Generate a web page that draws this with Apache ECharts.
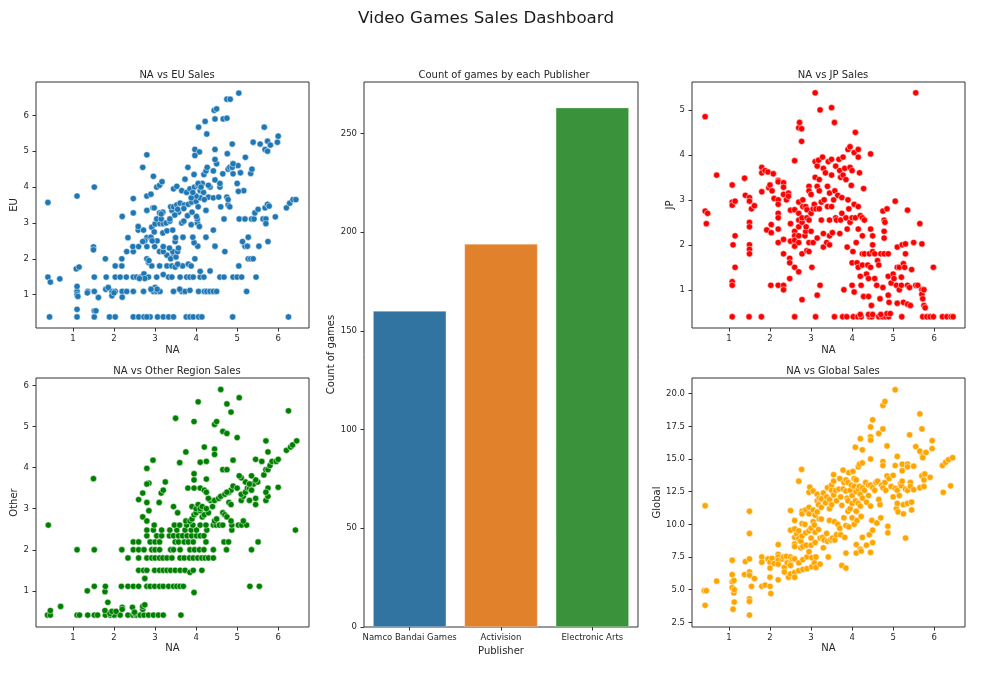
<!DOCTYPE html>
<html>
<head>
<meta charset="utf-8">
<script src="https://cdn.jsdelivr.net/npm/echarts@6/dist/echarts.min.js"></script>
<style>
html,body{margin:0;padding:0;background:#fff;}
#chart{width:993px;height:673px;}
</style>
</head>
<body>
<div id="chart"></div>
<script>
// ---------- DATA ----------
const publishers = ['Namco Bandai Games', 'Activision', 'Electronic Arts'];
const publisherCounts = [160, 194, 263];

const naTicks = [1, 2, 3, 4, 5, 6];
const euTicks = [1, 2, 3, 4, 5, 6];
const otherTicks = [1, 2, 3, 4, 5, 6];
const jpTicks = [1, 2, 3, 4, 5];
const globalTicks = [2.5, 5, 7.5, 10, 12.5, 15, 17.5, 20];
const countTicks = [0, 50, 100, 150, 200, 250];

const naEuPoints = [
[0.43,0.38],[1.10,0.38],[1.52,0.38],[1.89,0.38],[2.03,0.38],[2.47,0.38],[2.6,0.38],[2.73,0.38],[2.88,0.38],[3.06,0.38],[3.2,0.38],[3.33,0.38],[3.45,0.38],[3.76,0.38],[3.85,0.38],[3.93,0.38],[4.06,0.38],[4.14,0.38],[4.89,0.38],[6.25,0.38],[2.8,0.38],
[1.1,1.09],[1.36,1.09],[1.52,1.09],[1.95,1.09],[2.03,1.09],[2.2,1.09],[2.31,1.09],[2.47,1.09],[2.72,1.09],[2.96,1.09],[3.04,1.09],[3.12,1.09],[3.45,1.09],[3.65,1.09],[3.73,1.09],[4.06,1.09],[4.2,1.09],[4.26,1.09],[4.34,1.09],[4.42,1.09],[4.5,1.09],[5.23,1.09],
[0.39,1.49],[0.45,1.35],[0.68,1.44],[1.1,1.23],[1.52,1.49],[1.81,1.49],[2.03,1.49],[2.15,1.49],[2.3,1.49],[2.47,1.49],[2.55,1.49],[2.64,1.49],[2.73,1.58],[2.84,1.49],[3.04,1.49],[3.2,1.56],[3.33,1.49],[3.41,1.49],[3.61,1.49],[3.77,1.49],[3.85,1.49],[3.93,1.49],[4.1,1.49],[4.19,1.49],[4.34,1.66],[4.58,1.49],[4.68,1.49],[4.9,1.49],[5.0,1.49],[5.11,1.49],[5.46,1.49],
[1.1,0.59],[1.1,1.0],[1.12,0.95],[1.52,0.55],[1.56,0.55],[1.62,0.92],[1.35,1.05],[1.8,1.15],[1.86,1.2],[1.95,0.97],[2.0,1.05],[2.2,0.93],[3.0,1.2],[3.05,1.15],[3.6,1.15],[3.85,1.12],[4.1,1.65],[1.08,1.72],[1.15,1.77],[2.75,1.45],[2.9,1.15],[2.62,1.45],
[1.79,2.0],[2.03,1.8],[2.19,1.8],[2.84,1.9],[2.92,1.8],[3.11,1.8],[3.29,1.8],[3.41,1.8],[3.49,1.77],[3.67,1.8],[3.81,1.85],[3.88,1.8],[3.97,2.0],[5.04,1.8],[3.55,1.85],
[2.19,2.0],[2.8,2.0],[3.29,2.1],[3.45,2.1],[5.27,2.0],[5.33,2.0],[5.39,2.0],[3.38,2.0],[2.85,1.95],
[2.31,2.2],[2.47,2.2],[3.11,2.2],[3.2,2.2],[3.43,2.2],[3.35,2.3],[3.51,2.05],[4.7,2.2],[3.55,2.2],
[1.5,2.33],[1.5,2.25],[2.46,2.34],[2.6,2.34],[2.8,2.34],[2.99,2.34],[3.2,2.34],[3.49,2.48],[3.57,2.3],[4.04,2.35],[4.46,2.35],[5.19,2.35],[5.25,2.35],[5.53,2.35],[5.13,2.48],[3.95,2.45],[5.75,2.48],
[2.34,2.59],[2.8,2.59],[2.9,2.6],[3.5,2.59],[3.92,2.6],[4.24,2.6],[5.27,2.6],[3.05,2.5],[2.75,2.5],[2.93,2.5],
[2.59,2.8],[2.72,2.8],[2.92,2.88],[2.98,2.75],[3.19,2.72],[3.29,2.78],[3.43,2.8],[4.42,2.8],[2.7,2.48],[3.68,2.6],
[2.59,2.9],[3.0,2.97],[3.12,2.98],[3.2,2.98],[3.27,3.0],[3.36,3.05],[3.65,3.0],[4.03,3.0],[4.08,2.9],[3.7,3.05],[3.88,2.95],
[3.04,3.11],[3.15,3.11],[3.36,3.11],[4.03,3.11],[4.68,3.11],[5.05,3.11],[5.19,3.11],[5.35,3.11],[5.41,3.11],[5.63,3.11],[5.7,3.11],[5.93,3.17],[5.7,2.98],
[2.2,3.18],[2.47,3.28],[2.8,3.35],[3.11,3.28],[3.19,3.3],[3.41,3.35],[3.57,3.3],[3.79,3.2],[4.01,3.18],[4.24,3.35],[5.43,3.28],[5.51,3.38],[3.9,3.3],[3.48,3.22],[2.95,3.42],[3.15,3.25],
[0.39,3.57],[2.98,3.42],[3.38,3.45],[3.45,3.45],[3.53,3.5],[3.61,3.55],[3.71,3.5],[3.81,3.52],[3.89,3.58],[4.0,3.6],[4.6,3.45],[4.78,3.5],[4.82,3.45],[5.68,3.42],[5.74,3.52],[5.78,3.47],[6.2,3.42],[6.28,3.55],[6.36,3.65],[6.43,3.65],[3.7,3.4],[3.55,3.38],[4.05,3.45],
[1.1,3.75],[1.52,4.0],[2.47,3.68],[2.8,3.75],[2.9,3.8],[3.45,3.95],[3.53,4.02],[3.65,3.9],[3.77,3.85],[3.85,3.95],[3.96,4.0],[4.04,4.05],[4.1,3.9],[4.18,3.85],[4.3,3.72],[4.42,3.7],[4.55,3.72],[4.58,4.0],[4.75,3.72],[4.78,3.65],[5.16,3.9],[5.0,4.1],[5.03,3.88],[4.1,3.7],[4.0,3.75],[3.88,3.7],[4.2,3.65],[3.92,3.85],
[3.04,4.0],[3.11,4.05],[3.17,4.15],[2.96,4.3],[3.73,4.22],[3.95,4.35],[4.15,4.1],[4.19,4.35],[4.24,4.45],[4.27,4.55],[4.34,4.0],[4.42,4.45],[4.46,4.2],[4.5,4.65],[4.58,4.1],[4.65,4.37],[4.78,4.5],[4.82,4.55],[4.9,4.37],[5.02,4.6],[5.08,4.4],[5.33,4.38],[5.36,4.5],[3.8,4.55],[2.7,4.55],[4.05,4.1],[4.3,4.05],[4.12,4.0],
[2.8,4.9],[3.97,5.05],[4.08,4.98],[3.97,4.88],[4.46,4.77],[4.46,5.05],[4.76,4.93],[4.88,4.55],[4.9,4.65],[5.2,4.83],[5.68,5.05],[5.74,5.0],[5.74,5.28],[5.81,5.17],[5.56,5.2],[5.39,5.25],[5.98,5.25],[6.0,5.42],[5.66,5.67],[4.88,5.2],
[4.06,5.67],[4.26,5.48],[4.22,5.83],[4.44,6.14],[4.5,6.18],[4.46,5.9],[4.66,5.9],[4.75,5.92],[4.75,6.45],[4.83,6.45],[5.04,6.62]
];

const naOtherPoints = [
[0.38,0.41],[0.45,0.41],[1.1,0.41],[1.16,0.41],[1.36,0.41],[1.52,0.41],[1.6,0.41],[1.79,0.41],[1.91,0.41],[2.03,0.41],[2.15,0.41],[2.34,0.41],[2.46,0.41],[2.54,0.41],[2.64,0.41],[2.73,0.41],[2.84,0.41],[2.96,0.41],[3.08,0.41],[3.2,0.41],[3.63,0.41],[2.0,0.41],[2.5,0.45],
[0.45,0.52],[0.7,0.62],[1.78,0.52],[1.85,0.72],[1.9,0.45],[1.95,0.5],[2.05,0.5],[2.2,0.6],[2.2,0.55],[2.45,0.6],[2.5,0.48],[2.7,0.55],[2.7,0.62],[2.75,0.66],[1.35,1.0],[1.78,0.98],[3.95,0.96],[2.75,1.3],[0.4,2.6],[1.5,3.73],
[1.52,1.11],[1.79,1.11],[2.18,1.11],[2.34,1.11],[2.47,1.11],[2.6,1.11],[2.8,1.11],[2.88,1.11],[2.99,1.11],[3.11,1.11],[3.2,1.11],[3.33,1.11],[3.45,1.11],[3.53,1.11],[3.61,1.11],[3.69,1.11],[5.31,1.11],[5.54,1.11],
[2.6,1.5],[2.72,1.5],[2.8,1.5],[2.99,1.5],[3.11,1.5],[3.2,1.5],[3.29,1.5],[3.38,1.5],[3.49,1.5],[3.61,1.5],[3.73,1.5],[3.85,1.45],[3.93,1.5],[4.14,1.5],
[2.34,1.8],[2.6,1.8],[2.8,1.8],[2.92,1.8],[3.0,1.8],[3.11,1.8],[3.19,1.8],[3.29,1.8],[3.41,1.8],[3.61,1.8],[3.71,1.8],[3.84,1.8],[3.93,1.8],[4.04,1.8],[4.14,1.8],[4.22,1.8],[4.3,1.8],[4.42,1.8],
[1.1,2.0],[1.52,2.0],[2.19,2.0],[2.47,2.0],[2.6,2.0],[2.73,2.0],[2.92,2.0],[3.0,2.0],[3.11,2.0],[3.38,2.0],[3.45,2.0],[3.61,2.0],[3.85,2.0],[3.96,2.0],[4.08,2.0],[4.19,2.0],[4.42,2.0],[4.74,2.0],[5.35,2.0],
[2.47,2.19],[2.6,2.19],[2.88,2.19],[3.0,2.19],[3.11,2.19],[3.49,2.19],[3.57,2.19],[3.71,2.19],[3.81,2.19],[3.93,2.19],[4.24,2.19],[4.68,2.19],[4.79,2.19],[5.51,2.19],
[2.8,2.34],[3.04,2.34],[3.16,2.34],[3.35,2.34],[3.45,2.34],[3.57,2.34],[3.67,2.34],[3.78,2.34],[3.89,2.34],[4.01,2.34],[4.1,2.34],[4.19,2.34],
[2.8,2.48],[2.96,2.48],[3.16,2.48],[3.36,2.48],[3.53,2.48],[3.73,2.48],[3.88,2.48],[4.01,2.48],[4.26,2.48],[4.87,2.48],[6.42,2.48],
[2.98,2.6],[3.47,2.6],[3.6,2.6],[3.77,2.6],[3.92,2.6],[4.1,2.6],[4.24,2.6],[4.42,2.6],[4.49,2.6],[4.57,2.6],[4.65,2.6],[4.87,2.6],[5.03,2.6],[5.11,2.6],[5.23,2.6],
[2.7,2.8],[2.8,2.7],[3.75,2.7],[3.85,2.7],[3.9,2.75],[3.95,2.85],[4.0,2.9],[4.1,2.95],[4.15,2.8],[4.2,2.85],[4.3,2.9],[4.45,2.7],[4.5,2.75],[4.65,2.9],[4.7,2.85],[4.75,2.8],[4.85,2.7],[5.15,2.7],
[2.6,3.22],[2.85,2.95],[2.8,3.15],[3.1,3.15],[3.45,3.05],[3.55,2.9],[3.9,3.05],[4.0,3.0],[4.05,3.1],[4.1,3.0],[4.15,3.05],[4.25,3.0],[4.35,3.2],[4.4,3.05],[4.45,3.2],[4.55,3.25],[4.6,3.3],[4.8,3.15],[4.85,3.1],[5.1,3.2],[5.3,3.2],[5.45,3.1],[5.45,3.25],[5.7,3.2],[5.15,3.3],[5.1,3.35],[5.75,3.3],
[2.7,3.38],[3.15,3.38],[3.2,3.45],[3.25,3.65],[2.85,3.62],[2.8,3.6],[3.8,3.5],[3.95,3.5],[4.1,3.5],[4.2,3.45],[4.25,3.4],[4.7,3.35],[4.8,3.4],[4.85,3.45],[4.9,3.55],[5.0,3.5],[5.2,3.4],[5.25,3.5],[5.3,3.5],[5.35,3.45],[5.4,3.6],[5.5,3.65],[5.45,3.7],[5.2,3.65],[5.1,3.75],[5.05,3.8],[5.75,3.5],[5.7,3.4],[6.0,3.52],[4.25,3.72],[4.3,3.25],[4.75,3.4],
[2.8,3.98],[2.95,4.18],[3.6,4.12],[3.75,4.38],[3.95,3.85],[3.95,3.7],[4.1,4.13],[4.25,4.15],[4.2,4.5],[4.45,4.45],[4.45,4.32],[4.65,3.95],[4.75,3.95],[4.9,4.18],[5.35,3.8],[5.45,4.2],[5.6,4.15],[5.65,3.82],[5.7,3.95],[5.75,3.95],[5.75,4.38],[5.8,4.05],[5.85,4.15],[5.95,4.15],[6.0,4.2],[5.7,4.65],[5.3,3.6],
[3.5,5.2],[3.95,5.12],[4.05,5.6],[4.45,5.05],[4.5,5.12],[4.6,5.9],[4.65,4.88],[4.75,4.83],[4.75,5.55],[4.85,5.35],[5.0,4.73],[5.05,5.7],[6.25,5.38],[6.2,4.42],[6.3,4.5],[6.35,4.55],[6.45,4.65]
];

const naJpPoints = [
[1.08,0.4],[1.49,0.4],[1.79,0.4],[2.6,0.4],[3.11,0.4],[3.57,0.4],[3.77,0.4],[3.87,0.4],[4.03,0.4],[4.14,0.4],[4.22,0.4],[4.42,0.4],[4.48,0.4],[4.65,0.4],[4.74,0.4],[4.82,0.4],[4.89,0.4],[5.21,0.4],[5.72,0.4],[5.82,0.4],[5.9,0.4],[5.98,0.4],[6.2,0.4],[6.31,0.4],[6.41,0.4],[6.46,0.4],
[4.2,0.45],[4.4,0.45],[4.5,0.45],[4.7,0.45],[4.85,0.47],[4.93,0.47],
[0.42,4.85],[0.42,2.75],[0.45,2.47],[0.48,2.7],[0.7,3.55],[1.08,3.33],[1.08,2.95],[1.08,2.88],[1.1,2.0],[1.08,1.18],[1.08,1.1],[1.15,2.2],[1.15,1.5],[1.15,2.97],[1.38,3.48],[1.4,3.1],[1.5,3.05],[1.5,2.97],[1.5,2.5],[1.5,2.4],[1.5,2.0],[1.5,1.9],[1.5,1.8],[1.55,2.8],[1.62,2.87],
[1.8,3.72],[1.8,3.6],[1.8,3.18],[1.88,3.65],[1.92,2.33],[1.95,3.62],[1.97,3.27],[2.0,3.33],[2.03,2.45],[2.03,2.27],[2.05,3.2],[2.02,1.1],[2.08,3.58],[2.1,3.03],[2.2,3.43],[2.2,3.4],[2.2,3.0],[2.2,2.9],[2.2,2.7],[2.2,2.6],[2.2,2.35],[2.2,2.05],[2.2,1.1],
[2.33,3.38],[2.33,3.28],[2.33,3.12],[2.33,2.12],[2.33,1.8],[2.33,1.1],[2.33,1.0],[2.4,3.0],[2.45,3.15],[2.45,3.08],[2.48,1.7],[2.48,1.6],[2.48,1.25],[2.5,2.47],[2.5,2.08],[2.5,2.77],[2.6,3.87],[2.6,2.3],[2.6,2.2],[2.6,2.1],[2.6,1.97],[2.6,1.5],[2.6,2.78],
[2.7,4.6],[2.72,4.72],[2.77,4.58],[2.77,4.3],[2.7,2.95],[2.7,2.7],[2.7,2.55],[2.7,2.4],[2.7,2.2],[2.7,2.05],[2.7,1.4],[2.78,0.78],[2.78,1.8],[2.78,2.5],[2.78,2.6],[2.8,2.85],[2.8,3.0],[2.85,2.2],[2.87,2.3],[2.87,2.85],[2.88,2.4],[2.9,2.6],[2.9,1.87],[2.9,2.78],
[2.95,3.3],[2.95,3.2],[2.95,2.55],[2.95,2.05],[2.95,1.85],[3.0,3.12],[3.0,2.7],[3.0,2.3],[3.02,1.5],[3.05,2.05],[3.05,2.8],[3.08,2.9],[3.1,5.38],[3.1,3.85],[3.1,3.5],[3.12,2.8],[3.15,2.15],[3.15,3.75],[3.15,3.3],[3.15,0.88],[3.18,3.88],[3.2,3.45],[3.2,3.2],[3.2,2.8],[3.22,5.0],[3.22,1.1],[3.25,2.55],[3.25,2.95],
[3.28,3.95],[3.3,3.7],[3.3,2.25],[3.3,1.95],[3.32,3.0],[3.35,3.6],[3.38,2.05],[3.4,3.3],[3.4,2.85],[3.42,3.85],[3.45,3.15],[3.45,2.55],[3.45,2.2],[3.45,2.0],[3.5,5.05],[3.5,3.9],[3.5,3.55],[3.5,2.85],[3.52,2.27],[3.55,3.0],[3.57,4.72],[3.58,3.2],[3.6,2.6],[3.6,3.75],[3.62,2.55],[3.65,3.1],[3.68,3.9],[3.7,3.65],[3.7,2.25],[3.72,2.55],[3.72,3.5],[3.75,3.05],[3.75,2.7],
[3.78,3.95],[3.78,3.55],[3.8,1.0],[3.82,3.7],[3.85,3.45],[3.85,2.6],[3.88,2.35],[3.88,1.95],[3.9,4.12],[3.9,3.0],[3.92,2.8],[3.95,4.18],[3.95,3.72],[3.95,2.5],[3.98,3.32],[4.0,3.65],[4.0,2.6],[4.0,1.6],[4.0,1.1],[4.02,1.85],[4.05,4.05],[4.05,2.9],[4.05,0.95],[4.08,4.5],[4.08,2.6],[4.1,2.05],[4.12,1.6],
[4.15,4.12],[4.15,3.95],[4.15,2.85],[4.15,2.35],[4.15,1.5],[4.18,3.6],[4.2,2.65],[4.2,1.3],[4.22,1.1],[4.25,2.6],[4.25,2.2],[4.25,1.8],[4.25,1.55],[4.28,3.25],[4.28,0.85],[4.3,2.55],[4.3,1.8],[4.35,1.35],[4.38,1.55],[4.4,1.25],[4.4,0.85],[4.42,1.8],[4.45,4.02],[4.45,2.35],[4.45,1.5],[4.47,0.65],
[4.5,2.2],[4.5,2.0],[4.5,1.85],[4.55,1.8],[4.55,1.25],[4.6,1.1],[4.62,1.65],[4.65,1.55],[4.68,0.8],[4.7,1.8],[4.75,1.05],[4.75,2.75],[4.78,2.55],[4.78,2.3],[4.78,2.15],[4.78,1.8],[4.8,2.5],[4.85,2.8],[4.88,1.8],[4.88,1.3],[4.88,0.88],[4.9,0.72],[4.95,1.15],
[5.0,1.35],[5.02,1.25],[5.05,2.97],[5.08,1.1],[5.1,1.5],[5.1,1.95],[5.1,0.7],[5.15,1.0],[5.15,1.5],[5.2,1.28],[5.2,1.1],[5.22,2.0],[5.25,1.58],[5.25,0.72],[5.28,1.5],[5.3,1.8],[5.3,2.02],[5.35,2.77],[5.35,1.1],[5.35,0.68],[5.4,1.05],[5.42,0.65],[5.45,1.45],[5.5,2.05],[5.55,5.38],[5.55,1.1],[5.6,1.1],[5.65,2.47],[5.7,2.02],[5.7,1.0],[5.7,0.9],[5.72,0.8],[5.75,1.0],[5.75,0.65],[5.78,0.6],[5.98,1.5]
];

const naGlobalPoints = [
[0.42,11.42],[0.4,4.92],[0.45,4.92],[0.42,3.8],[0.7,5.65],[1.08,7.25],[1.08,6.15],[1.08,5.6],[1.08,5.15],[1.1,3.5],[1.12,4.75],[1.13,5.0],[1.13,4.05],[1.12,5.7],[1.4,7.15],[1.38,6.15],[1.5,11.0],[1.5,9.3],[1.5,7.35],[1.5,6.35],[1.5,6.1],[1.5,4.3],[1.5,4.1],[1.5,3.05],[1.55,5.25],[1.62,5.85],
[1.8,7.5],[1.8,7.1],[1.8,5.25],[1.88,5.35],[1.95,7.35],[2.0,7.1],[2.0,6.65],[2.0,5.95],[2.0,5.25],[2.02,4.7],[2.05,7.4],[2.1,7.0],[2.2,8.45],[2.2,7.7],[2.2,7.5],[2.2,7.25],[2.2,6.95],[2.2,5.75],[2.3,7.35],[2.33,7.5],[2.35,6.7],[2.35,6.35],[2.4,7.55],[2.42,7.05],[2.45,5.95],
[2.5,11.05],[2.5,9.55],[2.5,7.5],[2.5,7.0],[2.5,6.85],[2.5,6.2],[2.55,7.35],[2.6,10.3],[2.6,9.65],[2.6,9.0],[2.6,8.5],[2.6,8.3],[2.6,7.35],[2.6,6.3],[2.6,5.95],[2.65,9.25],[2.7,13.3],[2.7,9.5],[2.7,8.9],[2.7,7.05],[2.7,6.45],[2.75,8.7],[2.75,8.2],[2.77,14.2],[2.78,11.0],[2.78,10.8],[2.78,10.05],[2.78,9.1],[2.8,8.3],[2.8,7.3],[2.8,6.55],
[2.85,10.0],[2.87,11.1],[2.87,9.35],[2.88,8.4],[2.9,7.5],[2.9,6.6],[2.95,12.45],[2.95,11.3],[2.95,10.8],[2.95,9.5],[2.95,7.9],[2.97,12.85],[3.0,9.7],[3.0,8.95],[3.0,8.4],[3.02,7.45],[3.02,6.75],[3.05,12.55],[3.05,11.1],[3.05,10.2],[3.08,9.95],[3.08,7.05],[3.1,10.7],[3.1,9.4],[3.1,8.6],[3.12,7.5],[3.12,6.7],
[3.15,12.3],[3.15,11.8],[3.15,10.95],[3.18,11.5],[3.18,9.6],[3.2,12.0],[3.2,10.4],[3.22,8.95],[3.22,6.95],[3.25,11.95],[3.25,11.3],[3.25,10.4],[3.28,9.0],[3.3,12.4],[3.3,8.2],[3.32,8.8],[3.35,11.65],[3.38,12.1],[3.38,9.3],[3.4,12.8],[3.4,8.7],[3.42,7.5],[3.45,11.9],[3.45,11.2],[3.45,10.3],[3.48,8.8],
[3.5,13.0],[3.5,12.6],[3.5,11.5],[3.52,8.95],[3.55,13.8],[3.55,13.3],[3.55,12.25],[3.57,10.2],[3.58,8.8],[3.6,12.6],[3.62,11.8],[3.62,9.2],[3.65,10.0],[3.68,12.7],[3.7,13.5],[3.7,9.7],[3.72,12.1],[3.72,9.2],[3.75,11.45],[3.75,6.85],[3.78,14.15],[3.78,12.7],[3.8,13.2],[3.8,10.5],[3.82,9.0],
[3.85,13.4],[3.85,12.55],[3.85,9.9],[3.85,7.8],[3.85,6.65],[3.88,12.0],[3.9,13.2],[3.9,11.8],[3.9,11.0],[3.92,13.95],[3.92,9.8],[3.95,12.6],[3.95,11.2],[3.98,13.0],[4.0,12.2],[4.0,11.6],[4.0,10.5],[4.02,14.05],[4.05,13.5],[4.05,12.9],[4.05,10.0],[4.08,15.9],[4.08,11.8],[4.1,13.4],[4.1,12.5],[4.1,11.0],[4.1,8.45],[4.1,7.8],[4.12,10.3],
[4.15,14.4],[4.15,12.7],[4.15,11.6],[4.18,14.6],[4.18,12.9],[4.2,16.55],[4.2,12.3],[4.2,11.4],[4.2,8.1],[4.22,10.6],[4.22,7.95],[4.25,15.7],[4.25,14.7],[4.25,12.8],[4.25,12.0],[4.25,9.0],[4.3,12.6],[4.33,13.2],[4.35,11.7],[4.35,8.4],[4.4,13.0],[4.4,12.2],[4.42,9.2],
[4.45,17.45],[4.45,16.7],[4.45,16.45],[4.45,15.0],[4.45,13.0],[4.45,11.4],[4.45,7.85],[4.48,10.3],[4.5,18.0],[4.5,12.8],[4.5,9.55],[4.5,8.6],[4.55,12.6],[4.58,13.2],[4.6,10.1],[4.62,13.3],[4.65,16.95],[4.65,11.9],[4.68,11.5],[4.7,10.5],[4.72,13.0],
[4.75,19.1],[4.75,17.3],[4.75,14.8],[4.75,14.5],[4.75,12.8],[4.8,19.4],[4.8,13.2],[4.82,12.6],[4.85,16.0],[4.85,13.7],[4.87,9.85],[4.87,9.35],[4.9,13.5],[4.95,12.9],[5.0,13.75],[5.0,12.1],[5.05,20.3],[5.05,14.5],[5.05,12.75],[5.08,11.2],[5.1,15.2],[5.1,12.6],[5.1,11.6],[5.12,10.95],[5.15,12.2],
[5.18,13.1],[5.2,12.95],[5.22,14.6],[5.22,14.1],[5.22,13.3],[5.25,11.5],[5.25,10.8],[5.3,12.7],[5.3,8.95],[5.35,14.6],[5.35,14.4],[5.35,12.6],[5.35,11.6],[5.4,16.85],[5.42,13.2],[5.42,12.9],[5.45,11.7],[5.45,11.1],[5.5,14.45],[5.5,12.65],[5.55,15.95],
[5.65,18.45],[5.65,15.6],[5.65,12.8],[5.7,17.3],[5.7,13.7],[5.72,15.25],[5.72,15.1],[5.75,13.4],[5.75,12.9],[5.77,13.85],[5.8,15.5],[5.9,13.6],[5.95,16.4],[5.95,15.8],[6.2,14.5],[6.22,12.45],[6.28,14.75],[6.35,14.95],[6.4,12.95],[6.45,15.1]
];

// ---------- CHART ----------
const FONT = 'DejaVu Sans';
const TXT = '#262626';
const TICK_FS = 8.5;
const NAME_FS = 10;
const chart = echarts.init(document.getElementById('chart'), null, {renderer: 'canvas'});

const grids = [
  {left: 36, top: 82, width: 273, height: 246},   // EU
  {left: 36, top: 378, width: 273, height: 249},  // Other
  {left: 364, top: 82, width: 274, height: 545},  // bar
  {left: 692, top: 82, width: 273, height: 246},  // JP
  {left: 692, top: 378, width: 273, height: 249}  // Global
].map(g => Object.assign(g, {show: true, borderColor: '#333', borderWidth: 1, backgroundColor: 'transparent', containLabel: false}));

function valueX(gi, nameGap) {
  return {
    type: 'value', gridIndex: gi, min: 0.1, max: 6.75,
    name: 'NA', nameLocation: 'middle', nameGap: nameGap,
    nameTextStyle: {fontFamily: FONT, fontSize: NAME_FS, color: TXT},
    axisLine: {show: false},
    axisTick: {show: true, inside: false, length: 3.5, customValues: naTicks, lineStyle: {color: '#333', width: 1}},
    axisLabel: {show: true, customValues: naTicks, fontFamily: FONT, fontSize: TICK_FS, color: TXT, margin: 6},
    splitLine: {show: false}
  };
}
function valueY(gi, name, min, max, ticks, nameGap, fmt) {
  return {
    type: 'value', gridIndex: gi, min: min, max: max,
    name: name, nameLocation: 'middle', nameGap: nameGap, nameRotate: 90,
    nameTextStyle: {fontFamily: FONT, fontSize: NAME_FS, color: TXT},
    axisLine: {show: false},
    axisTick: {show: true, inside: false, length: 3.5, customValues: ticks, lineStyle: {color: '#333', width: 1}},
    axisLabel: {show: true, customValues: ticks, fontFamily: FONT, fontSize: TICK_FS, color: TXT, margin: 7,
      formatter: fmt || (v => String(v))},
    splitLine: {show: false}
  };
}

function scatter(xi, data, color) {
  return {
    type: 'scatter', xAxisIndex: xi, yAxisIndex: xi, data: data,
    symbol: 'circle', symbolSize: 6.3,
    itemStyle: {color: color, borderColor: '#ffffff', borderWidth: 0.5, opacity: 1},
    emphasis: {disabled: true}, silent: true
  };
}

const subTitleStyle = {fontFamily: FONT, fontSize: 10, fontWeight: 'normal', color: TXT};

const option = {
  backgroundColor: '#ffffff',
  animation: false,
  title: [
    {text: 'Video Games Sales Dashboard', left: 481, top: 5, textAlign: 'center',
     textStyle: {fontFamily: FONT, fontSize: 16.7, fontWeight: 'normal', color: '#1a1a1a'}},
    {text: 'NA vs EU Sales', left: 172, top: 65, textAlign: 'center', textStyle: subTitleStyle},
    {text: 'NA vs Other Region Sales', left: 172, top: 361, textAlign: 'center', textStyle: subTitleStyle},
    {text: 'Count of games by each Publisher', left: 499, top: 65, textAlign: 'center', textStyle: subTitleStyle},
    {text: 'NA vs JP Sales', left: 828, top: 65, textAlign: 'center', textStyle: subTitleStyle},
    {text: 'NA vs Global Sales', left: 828, top: 361, textAlign: 'center', textStyle: subTitleStyle}
  ],
  grid: grids,
  xAxis: [
    valueX(0, 17),
    valueX(1, 16),
    {
      type: 'category', gridIndex: 2, data: publishers,
      name: 'Publisher', nameLocation: 'middle', nameGap: 16,
      nameTextStyle: {fontFamily: FONT, fontSize: NAME_FS, color: TXT},
      axisLine: {show: false},
      axisTick: {show: true, alignWithLabel: true, length: 3.5, lineStyle: {color: '#333'}},
      axisLabel: {fontFamily: FONT, fontSize: TICK_FS, color: TXT, margin: 6, interval: 0},
      splitLine: {show: false}
    },
    valueX(3, 17),
    valueX(4, 16)
  ],
  yAxis: [
    valueY(0, 'EU', 0.07, 6.93, euTicks, 15),
    valueY(1, 'Other', 0.12, 6.18, otherTicks, 15),
    valueY(2, 'Count of games', 0, 276, countTicks, 26),
    valueY(3, 'JP', 0.15, 5.62, jpTicks, 16),
    valueY(4, 'Global', 2.14, 21.2, globalTicks, 27, v => v.toFixed(1))
  ],
  series: [
    scatter(0, naEuPoints, '#1f77b4'),
    scatter(1, naOtherPoints, '#008000'),
    {
      type: 'bar', xAxisIndex: 2, yAxisIndex: 2,
      data: publisherCounts.map((v, i) => ({value: v, itemStyle: {color: ['#3274a1', '#e1812c', '#3a923a'][i]}})),
      barCategoryGap: '20%',
      itemStyle: {borderColor: 'rgba(255,255,255,0.6)', borderWidth: 0.5},
      silent: true
    },
    scatter(3, naJpPoints, '#ff0000'),
    scatter(4, naGlobalPoints, '#ffa500')
  ]
};
chart.setOption(option);
</script>
</body>
</html>
